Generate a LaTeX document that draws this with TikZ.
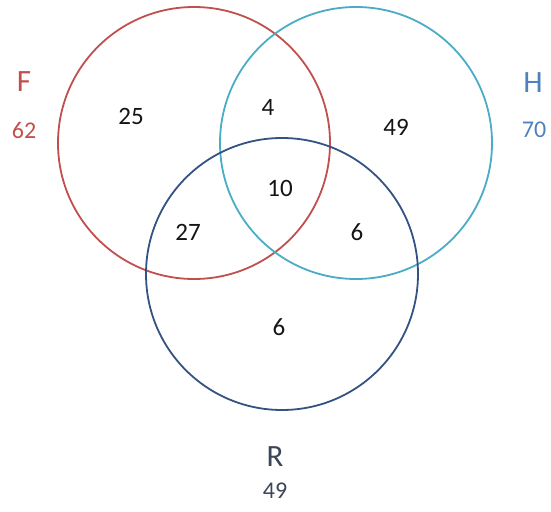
\documentclass[tikz,border=0pt]{standalone}
\usepackage{fontspec}
\setmainfont{Carlito}
\usepackage{tikz}
\usetikzlibrary{positioning}
\usepackage{xcolor}
\definecolor{fred}{RGB}{192,80,77}
\definecolor{hcyan}{RGB}{75,172,198}
\definecolor{hblue}{RGB}{79,129,189}
\definecolor{rnavy}{RGB}{52,82,130}
\definecolor{rslate}{RGB}{59,70,88}
\definecolor{ink}{RGB}{20,20,20}

\begin{document}
\begin{tikzpicture}[x=1pt, y=-1pt,
  ring/.style={circle, minimum size=272pt, inner sep=0pt, line width=1.8pt},
  setname/.style={font=\fontsize{31}{32}\selectfont, inner sep=0pt},
  settotal/.style={font=\fontsize{24}{26}\selectfont, inner sep=0pt},
  count/.style={font=\fontsize{25}{27}\selectfont, text=ink, inner sep=0pt}]
\useasboundingbox (0,0) rectangle (551,511);
% circles
\node[ring, draw=fred]  (cf) at (194,143) {};
\node[ring, draw=hcyan] (ch) at (356,143) {};
\node[ring, draw=rnavy] (cr) at (282,274) {};
% set names and totals
\node[setname, text=fred]   (lf) at (24,82) {F};
\node[settotal, text=fred]  (tf) at (24,130) {62};
\node[setname, text=hblue]  (lh) at (533,83) {H};
\node[settotal, text=hblue] (th) at (534,130) {70};
\node[setname, text=rslate]  (lr) at (275,457) {R};
\node[settotal, text=rslate] (tr) at (275,491) {49};
% region counts
\node[count] (nf)   at (131,116) {25};
\node[count] (nfh)  at (268,107) {4};
\node[count] (nh)   at (396,127) {49};
\node[count] (nfhr) at (280,188) {10};
\node[count] (nfr)  at (188,232) {27};
\node[count] (nhr)  at (357,232) {6};
\node[count] (nr)   at (279,327) {6};
\end{tikzpicture}
\end{document}
